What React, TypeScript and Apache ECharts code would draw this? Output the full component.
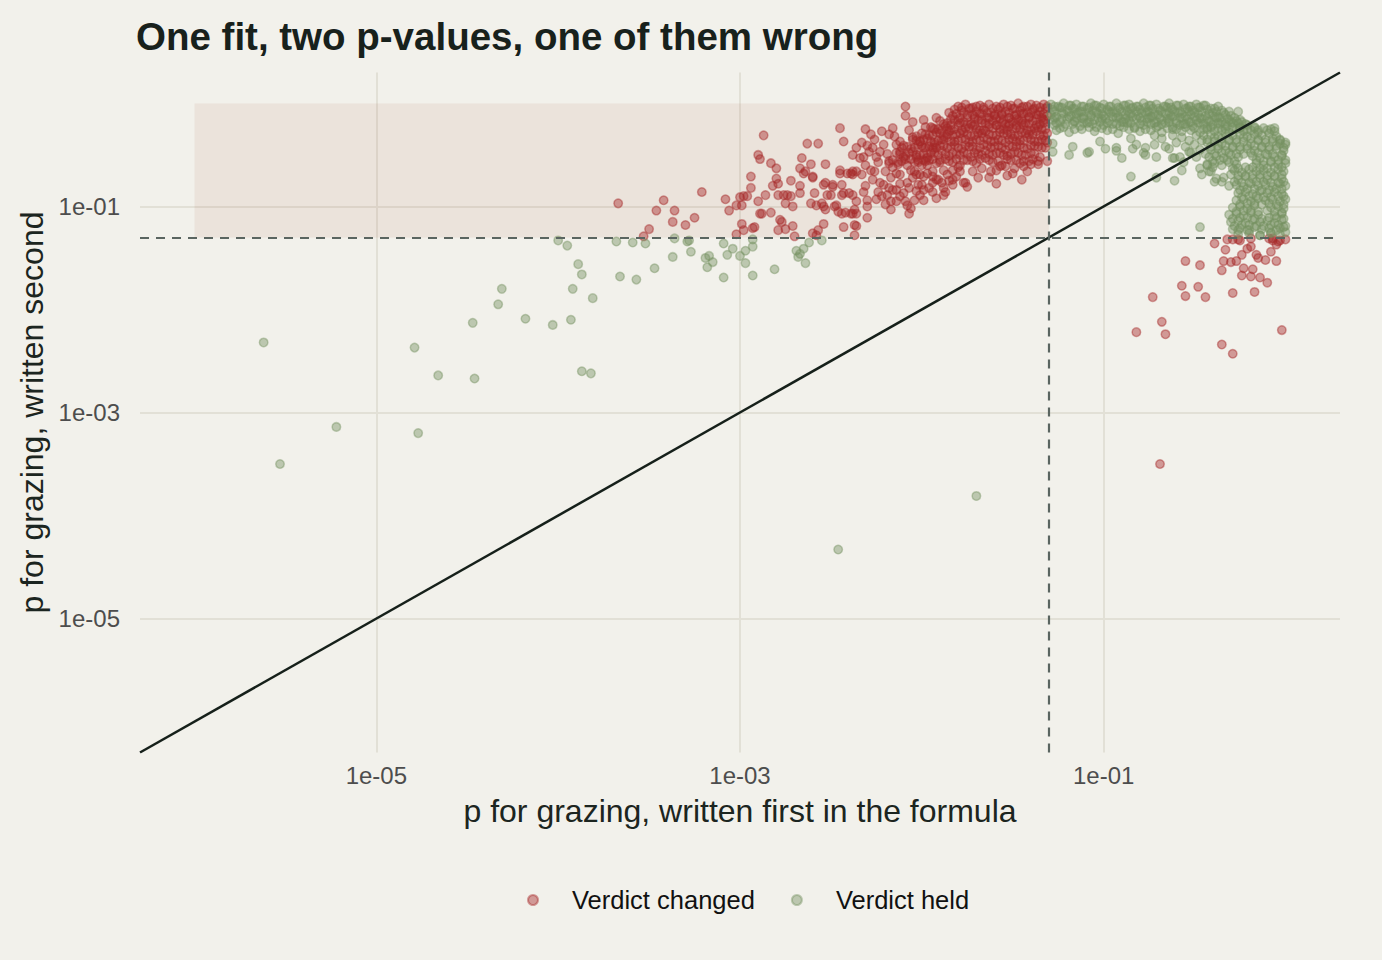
import React, { useEffect, useRef } from "react";
import * as echarts from "echarts";

// All point values are log10(p): [log10 p written first, log10 p written second]
const THRESHOLD = 0.05;
const axisExtent = [-6.3, 0.3];
const tickExponents = [-5, -3, -1];
const shadeFromExp = -6;
const seriesNames = ["Verdict changed", "Verdict held"];

const changedSparse: number[][] = [
  [-3.67,-0.97],[-3.53,-1.29],[-3.50,-1.22],[-3.46,-1.04],[-3.42,-0.94],[-3.36,-1.04],[-3.37,-1.15],[-3.30,-1.18],[-3.25,-1.11],[-3.21,-0.86],
  [-3.08,-0.93],[-3.06,-1.04],[-3.02,-0.99],[-2.99,-0.99],[-3.00,-0.91],[-2.98,-0.90],[-2.96,-0.90],[-2.94,-0.71],[-2.94,-0.82],[-2.90,-0.95],
  [-2.86,-0.89],[-2.88,-1.07],[-2.83,-1.06],[-2.90,-0.50],[-2.89,-0.54],[-2.87,-0.31],[-2.83,-0.58],[-2.80,-0.63],[-2.80,-0.73],[-2.82,-0.80],
  [-2.79,-0.89],[-2.99,-1.17],[-2.98,-1.23],[-3.02,-1.27],[-2.92,-1.20],[-2.93,-1.21],[-2.78,-1.13],[-2.77,-1.15],[-2.79,-1.23],[-2.75,-1.22],
  [-2.71,-1.19],[-2.70,-1.29],[-2.79,-0.78],[-2.72,-0.75],[-2.76,-0.89],[-2.74,-0.89],[-2.72,-0.90],[-2.75,-0.97],[-2.71,-1.00],[-2.67,-0.80],
  [-2.67,-0.87],[-2.64,-0.66],[-2.60,-0.72],[-2.61,-0.97],[-2.58,-0.99],[-2.59,-0.87],[-2.54,-0.79],[-2.53,-0.77],[-2.49,-0.79],[-2.50,-0.89],
  [-2.55,-0.97],[-2.53,-1.03],[-2.54,-1.17],[-2.60,-1.26],[-2.58,-1.28],[-2.57,-1.23],[-2.47,-0.99],[-2.44,-1.07],[-2.42,-1.06],[-2.44,-0.79],
  [-2.43,-0.87],[-2.40,-0.87],[-2.45,-0.68],[-2.39,-0.68],[-2.38,-0.66],[-2.37,-1.03],[-2.38,-1.07],[-2.37,-1.18],[-2.37,-1.28],[-2.36,-0.95],
  [-2.63,-0.39],[-2.57,-0.39],[-2.66,-0.53],[-2.61,-0.59],[-2.67,-0.63],[-2.65,-0.68],[-2.60,-0.71],[-2.53,-0.59],[-2.49,-0.81],[-2.52,-0.89],
  [-2.54,-1.00],[-2.48,-1.00],[-2.46,-1.05],[-2.44,-0.89],[-2.45,-0.65],[-2.45,-0.24],[-2.43,-0.37],[-2.36,-0.43],[-2.38,-0.50],[-2.34,-0.53],
  [-2.32,-0.52],[-2.31,-0.25],[-2.41,-0.68],[-2.38,-0.69],[-2.38,-0.89],[-2.32,-0.86],[-2.30,-1.00],[-2.30,-0.94],[-2.39,-1.07],[-2.36,-1.07],
  [-2.43,-1.20],[-2.30,-1.11],[-2.36,-1.19],[-2.89,-1.07],
  [-2.26,-0.35],[-2.30,-0.41],[-2.27,-0.43],[-2.23,-0.47],[-2.19,-0.49],[-2.31,-0.60],[-2.28,-0.65],[-2.26,-0.66],[-2.33,-0.69],[-2.36,-0.66],
  [-2.23,-0.77],[-2.24,-0.86],[-2.21,-0.79],[-2.24,-0.57],[-2.18,-0.82],[-2.16,-0.84],[-2.14,-0.84],[-2.19,-0.89],[-2.22,-0.90],[-2.16,-0.24],
  [-2.15,-0.32],[-2.12,-0.37],[-2.14,-0.40],[-2.09,-0.03],[-2.09,-0.12],[-2.05,-0.18],[-2.07,-0.26],[-2.05,-0.33],[-2.03,-0.32],[-2.12,-0.47],
  [-2.10,-0.52],[-2.13,-0.57],[-2.08,-0.60],[-2.06,-0.65],[-2.04,-0.66],[-2.12,-0.69],[-2.14,-0.68],[-2.08,-0.77],[-2.07,-0.82],[-2.12,-0.90],
  [-2.09,-0.95],[-2.14,-0.95],[-2.08,-0.99],[-2.06,-1.02],[-2.07,-1.07],[-2.17,-0.95],[-2.17,-1.03],[-1.99,-0.16],[-1.98,-0.23],[-1.94,-0.24],
  [-1.92,-0.14],[-2.01,-0.37],[-1.99,-0.43],[-2.03,-0.52],[-2.02,-0.57],[-1.99,-0.55],[-1.97,-0.53],[-1.97,-0.60],[-1.94,-0.66],[-1.94,-0.43],
  [-1.93,-0.40],[-2.03,-0.69],[-2.01,-0.69],[-1.99,-0.71],[-1.94,-0.71],[-2.02,-0.79],[-1.99,-0.84],[-2.01,-0.89],[-1.94,-0.86],[-1.94,-0.77],
  [-1.99,-0.94],[-1.91,-0.74],[-1.89,-0.77],[-1.88,-0.82],[-1.88,-0.89],[-1.87,-0.86],[-1.90,-0.57],[-1.88,-0.65],[-1.86,-0.69],[-1.83,-0.74],
  [-1.83,-0.79],[-1.76,-0.77],[-1.75,-0.81],[-1.83,-0.65],[-1.81,-0.71],[-1.79,-0.66],
  [-1.69,-0.72],[-1.63,-0.72],[-1.59,-0.78],[-1.53,-0.70],[-1.50,-0.68],[-1.45,-0.74],[-1.44,-0.61],[-1.40,-0.59],[-1.36,-0.56],[-1.31,-0.56],
  [-1.54,-0.61],[-1.57,-0.61],[-1.62,-0.66],[-1.77,-0.77],[-1.92,-0.74],
  [-2.33,-0.38],[-2.29,-0.47],[-2.25,-0.52],[-2.21,-0.40],[-2.18,-0.58],[-2.20,-0.66],[-2.17,-0.72],[-2.27,-0.74],[-2.31,-0.80],[-2.25,-0.93],
  [-2.20,-0.98],[-2.12,-0.78],[-2.10,-0.87],[-2.16,-0.62],[-2.11,-0.43],[-2.18,-0.30],[-2.22,-0.27],[-2.28,-0.30],[-2.05,-0.72],[-2.03,-0.85],
  [-2.00,-0.79],[-1.97,-0.68],[-1.96,-0.82],[-2.04,-0.94],[-1.92,-0.92],[-1.85,-0.75],[-1.80,-0.62],[-1.72,-0.66],[-1.67,-0.63],[-1.59,-0.65],
  [-1.49,-0.63],[-1.42,-0.66],
];

const changedCore: number[][] = [
  [-1.80,-0.03],[-1.76,-0.01],[-1.72,-0.04],[-1.68,-0.02],[-1.63,-0.01],[-1.59,-0.03],[-1.55,-0.01],[-1.51,-0.02],[-1.47,-0.00],[-1.44,-0.03],[-1.40,-0.01],[-1.37,-0.02],[-1.33,-0.01],[-1.31,-0.03],
  [-1.85,-0.09],[-1.82,-0.06],[-1.78,-0.07],[-1.73,-0.05],[-1.70,-0.08],[-1.66,-0.06],[-1.62,-0.09],[-1.58,-0.06],[-1.54,-0.08],[-1.50,-0.05],[-1.46,-0.07],[-1.42,-0.09],[-1.39,-0.06],[-1.35,-0.08],[-1.32,-0.05],
  [-1.83,-0.12],[-1.79,-0.14],[-1.75,-0.11],[-1.71,-0.13],[-1.67,-0.10],[-1.64,-0.14],[-1.60,-0.12],[-1.56,-0.11],[-1.52,-0.14],[-1.49,-0.12],[-1.45,-0.10],[-1.41,-0.13],[-1.37,-0.11],[-1.34,-0.14],[-1.31,-0.12],
  [-1.90,-0.17],[-1.86,-0.19],[-1.82,-0.16],[-1.77,-0.18],[-1.73,-0.20],[-1.69,-0.16],[-1.65,-0.19],[-1.61,-0.17],[-1.57,-0.15],[-1.54,-0.20],[-1.50,-0.18],[-1.47,-0.16],[-1.43,-0.19],[-1.39,-0.17],[-1.35,-0.20],[-1.32,-0.16],
  [-1.95,-0.23],[-1.91,-0.25],[-1.87,-0.22],[-1.84,-0.26],[-1.80,-0.21],[-1.76,-0.24],[-1.72,-0.22],[-1.68,-0.26],[-1.63,-0.23],[-1.59,-0.21],[-1.55,-0.25],[-1.52,-0.22],[-1.48,-0.24],[-1.44,-0.21],[-1.40,-0.26],[-1.36,-0.23],[-1.32,-0.25],
  [-2.00,-0.29],[-1.96,-0.31],[-1.92,-0.28],[-1.88,-0.32],[-1.85,-0.27],[-1.81,-0.30],[-1.77,-0.28],[-1.73,-0.32],[-1.69,-0.29],[-1.65,-0.27],[-1.61,-0.31],[-1.57,-0.28],[-1.53,-0.30],[-1.49,-0.32],[-1.45,-0.28],[-1.41,-0.30],[-1.37,-0.27],[-1.33,-0.31],
  [-2.05,-0.35],[-2.01,-0.37],[-1.97,-0.34],[-1.93,-0.38],[-1.89,-0.35],[-1.86,-0.33],[-1.82,-0.37],[-1.78,-0.34],[-1.74,-0.38],[-1.70,-0.35],[-1.66,-0.33],[-1.62,-0.37],[-1.58,-0.35],[-1.54,-0.38],[-1.50,-0.34],[-1.46,-0.36],[-1.42,-0.33],[-1.38,-0.37],[-1.34,-0.35],[-1.31,-0.38],
  [-2.10,-0.41],[-2.06,-0.44],[-2.02,-0.40],[-1.98,-0.43],[-1.94,-0.45],[-1.90,-0.41],[-1.86,-0.43],[-1.82,-0.40],[-1.78,-0.44],[-1.74,-0.42],[-1.70,-0.45],[-1.66,-0.40],[-1.62,-0.43],[-1.58,-0.41],[-1.54,-0.45],[-1.50,-0.42],[-1.46,-0.40],[-1.42,-0.44],[-1.38,-0.41],[-1.34,-0.43],
  [-2.14,-0.48],[-2.09,-0.51],[-2.05,-0.47],[-2.01,-0.50],[-1.97,-0.52],[-1.93,-0.48],[-1.89,-0.46],[-1.85,-0.51],[-1.81,-0.49],[-1.77,-0.47],[-1.73,-0.52],[-1.69,-0.49],[-1.65,-0.46],[-1.61,-0.50],[-1.57,-0.48],[-1.53,-0.51],[-1.49,-0.47],[-1.45,-0.50],[-1.40,-0.48],[-1.35,-0.52],
  [-2.18,-0.56],[-2.13,-0.59],[-2.09,-0.54],[-2.04,-0.57],[-2.00,-0.60],[-1.96,-0.55],[-1.92,-0.58],[-1.87,-0.54],[-1.83,-0.57],[-1.79,-0.60],[-1.75,-0.55],[-1.70,-0.58],[-1.65,-0.53],[-1.61,-0.57],[-1.56,-0.60],[-1.51,-0.55],[-1.46,-0.58],[-1.41,-0.56],[-1.36,-0.59],
];

const changedCoreExtra: number[][] = [
  [-1.78,-0.04],[-1.74,-0.05],[-1.70,-0.03],[-1.66,-0.04],[-1.61,-0.05],[-1.57,-0.04],[-1.53,-0.03],[-1.49,-0.05],[-1.45,-0.04],[-1.42,-0.03],[-1.38,-0.05],[-1.35,-0.04],
  [-1.81,-0.10],[-1.77,-0.09],[-1.72,-0.11],[-1.68,-0.10],[-1.64,-0.09],[-1.60,-0.11],[-1.56,-0.10],[-1.52,-0.09],[-1.48,-0.11],[-1.44,-0.10],[-1.40,-0.09],[-1.36,-0.11],[-1.33,-0.10],
  [-1.84,-0.15],[-1.80,-0.16],[-1.75,-0.14],[-1.71,-0.15],[-1.67,-0.16],[-1.63,-0.14],[-1.59,-0.15],[-1.55,-0.16],[-1.52,-0.14],[-1.48,-0.15],[-1.45,-0.16],[-1.41,-0.14],[-1.37,-0.15],[-1.33,-0.16],
  [-1.88,-0.20],[-1.84,-0.21],[-1.79,-0.19],[-1.75,-0.20],[-1.71,-0.21],[-1.67,-0.19],[-1.63,-0.20],[-1.59,-0.21],[-1.56,-0.19],[-1.52,-0.20],[-1.48,-0.21],[-1.45,-0.19],[-1.41,-0.20],[-1.37,-0.21],[-1.33,-0.19],
  [-1.93,-0.25],[-1.89,-0.26],[-1.86,-0.24],[-1.82,-0.25],[-1.78,-0.26],[-1.74,-0.24],[-1.70,-0.25],[-1.66,-0.26],[-1.61,-0.24],[-1.57,-0.25],[-1.53,-0.26],[-1.50,-0.24],[-1.46,-0.25],[-1.42,-0.26],[-1.38,-0.24],[-1.34,-0.25],
  [-1.98,-0.30],[-1.94,-0.31],[-1.90,-0.29],[-1.86,-0.30],[-1.83,-0.31],[-1.79,-0.29],[-1.75,-0.30],[-1.71,-0.31],[-1.67,-0.29],[-1.63,-0.30],[-1.59,-0.31],[-1.55,-0.29],[-1.51,-0.30],[-1.47,-0.31],[-1.43,-0.29],[-1.39,-0.30],[-1.35,-0.31],[-1.31,-0.29],
  [-2.03,-0.36],[-1.99,-0.35],[-1.95,-0.37],[-1.91,-0.36],[-1.88,-0.35],[-1.84,-0.37],[-1.80,-0.36],[-1.76,-0.35],[-1.72,-0.37],[-1.68,-0.36],[-1.64,-0.35],[-1.60,-0.37],[-1.56,-0.36],[-1.52,-0.35],[-1.48,-0.37],[-1.44,-0.36],[-1.40,-0.35],[-1.36,-0.37],[-1.32,-0.36],
  [-2.08,-0.42],[-2.04,-0.43],[-2.00,-0.41],[-1.96,-0.42],[-1.92,-0.43],[-1.88,-0.41],[-1.84,-0.42],[-1.80,-0.43],[-1.76,-0.41],[-1.72,-0.42],[-1.68,-0.43],[-1.64,-0.41],[-1.60,-0.42],[-1.56,-0.43],[-1.52,-0.41],[-1.48,-0.42],[-1.44,-0.43],[-1.40,-0.41],[-1.36,-0.42],[-1.32,-0.43],
  [-2.12,-0.49],[-2.07,-0.48],[-2.03,-0.50],[-1.99,-0.49],[-1.95,-0.48],[-1.91,-0.50],[-1.87,-0.49],[-1.83,-0.48],[-1.79,-0.50],[-1.75,-0.49],[-1.71,-0.48],[-1.67,-0.50],[-1.63,-0.49],[-1.59,-0.48],[-1.55,-0.50],[-1.51,-0.49],[-1.47,-0.48],[-1.43,-0.50],[-1.38,-0.49],
  [-2.16,-0.55],[-2.11,-0.56],[-2.06,-0.54],[-2.02,-0.55],[-1.98,-0.56],[-1.94,-0.54],[-1.90,-0.55],[-1.85,-0.56],[-1.81,-0.54],[-1.77,-0.55],[-1.72,-0.56],[-1.68,-0.54],[-1.63,-0.55],[-1.58,-0.56],[-1.53,-0.54],[-1.48,-0.55],[-1.44,-0.56],[-1.39,-0.54],
];

const changedRight: number[][] = [
  [-0.39,-1.36],[-0.33,-1.42],[-0.32,-1.32],[-0.29,-1.32],[-0.26,-1.32],[-0.25,-1.33],[-0.19,-1.31],[-0.55,-1.53],[-0.47,-1.57],[-0.35,-1.62],
  [-0.34,-1.53],[-0.30,-1.54],[-0.27,-1.53],[-0.24,-1.47],[-0.21,-1.41],[-0.19,-1.39],[-0.16,-1.47],[-0.15,-1.50],[-0.11,-1.52],[-0.08,-1.44],
  [-0.05,-1.53],[-0.05,-1.37],[-0.04,-1.34],[-0.07,-1.31],[-0.23,-1.60],[-0.18,-1.61],[-0.24,-1.67],[-0.19,-1.68],[-0.14,-1.69],[-0.10,-1.74],
  [-0.57,-1.77],[-0.48,-1.78],[-0.55,-1.87],[-0.44,-1.88],[-0.73,-1.88],[-0.29,-1.84],[-0.17,-1.83],[-0.68,-2.12],[-0.82,-2.22],[-0.66,-2.24],
  [-0.02,-2.20],[-0.35,-2.34],[-0.29,-2.43],[-0.69,-3.50],[-0.09,-1.31],[-0.07,-1.33],[-0.03,-1.33],[0.00,-1.32],
];

const heldSparse: number[][] = [
  [-5.62,-2.32],[-5.53,-3.50],[-5.22,-3.14],[-4.79,-2.37],[-4.77,-3.20],[-4.66,-2.64],[-4.46,-2.67],[-4.47,-2.13],[-4.33,-1.95],[-4.31,-1.80],
  [-4.18,-2.09],[-4.03,-2.15],[-4.00,-1.33],[-3.95,-1.38],[-3.89,-1.56],[-3.87,-1.66],[-3.92,-1.80],[-3.81,-1.89],[-3.93,-2.10],[-3.87,-2.60],
  [-3.82,-2.62],[-3.68,-1.34],[-3.66,-1.68],[-3.59,-1.35],[-3.52,-1.36],[-3.57,-1.71],[-3.47,-1.60],[-3.37,-1.49],[-3.36,-1.31],[-3.29,-1.34],
  [-3.28,-1.33],[-3.27,-1.44],[-3.19,-1.50],[-3.17,-1.48],[-3.15,-1.54],[-3.18,-1.59],[-3.09,-1.36],[-3.07,-1.47],[-3.04,-1.41],[-3.00,-1.48],
  [-2.97,-1.43],[-2.93,-1.32],[-2.93,-1.39],[-2.97,-1.55],[-3.09,-1.69],[-2.93,-1.67],[-2.81,-1.61],[-2.69,-1.43],[-2.68,-1.49],[-2.67,-1.46],
  [-2.65,-1.41],[-2.62,-1.35],[-2.64,-1.55],[-2.55,-1.33],[-2.46,-4.33],[-1.70,-3.81],
];

const heldBand: number[][] = [
  [-1.29,-0.01],[-1.25,-0.03],[-1.22,-0.00],[-1.18,-0.02],[-1.15,-0.01],[-1.11,-0.03],[-1.07,-0.00],[-1.04,-0.02],[-1.00,-0.01],[-0.97,-0.03],[-0.93,-0.00],[-0.89,-0.02],
  [-0.86,-0.01],[-0.82,-0.03],[-0.78,-0.00],[-0.75,-0.02],[-0.71,-0.01],[-0.67,-0.03],[-0.64,-0.00],[-0.60,-0.02],[-0.56,-0.01],[-0.53,-0.03],[-0.49,-0.01],[-0.45,-0.02],
  [-1.28,-0.06],[-1.24,-0.04],[-1.20,-0.07],[-1.17,-0.05],[-1.13,-0.08],[-1.09,-0.05],[-1.06,-0.07],[-1.02,-0.04],[-0.98,-0.06],[-0.95,-0.08],[-0.91,-0.05],[-0.87,-0.07],[-0.84,-0.04],
  [-0.80,-0.06],[-0.76,-0.08],[-0.73,-0.05],[-0.69,-0.07],[-0.65,-0.04],[-0.62,-0.06],[-0.58,-0.08],[-0.54,-0.05],[-0.51,-0.07],[-0.47,-0.04],[-0.43,-0.06],[-0.39,-0.05],[-0.35,-0.07],
  [-1.29,-0.11],[-1.26,-0.13],[-1.22,-0.10],[-1.18,-0.12],[-1.14,-0.09],[-1.11,-0.13],[-1.07,-0.11],[-1.03,-0.10],[-1.00,-0.12],[-0.96,-0.09],[-0.92,-0.13],[-0.88,-0.11],[-0.85,-0.10],[-0.81,-0.12],
  [-0.77,-0.09],[-0.74,-0.13],[-0.70,-0.11],[-0.66,-0.10],[-0.63,-0.12],[-0.59,-0.09],[-0.55,-0.13],[-0.52,-0.11],[-0.48,-0.10],[-0.44,-0.12],[-0.40,-0.09],[-0.37,-0.13],[-0.33,-0.11],[-0.30,-0.12],
  [-1.28,-0.16],[-1.24,-0.18],[-1.20,-0.15],[-1.16,-0.17],[-1.12,-0.14],[-1.08,-0.18],[-1.05,-0.16],[-1.01,-0.15],[-0.97,-0.17],[-0.93,-0.14],[-0.90,-0.18],[-0.86,-0.16],[-0.82,-0.15],[-0.79,-0.17],[-0.75,-0.14],
  [-0.71,-0.18],[-0.68,-0.16],[-0.64,-0.15],[-0.60,-0.17],[-0.57,-0.14],[-0.53,-0.18],[-0.49,-0.16],[-0.46,-0.15],[-0.42,-0.17],[-0.38,-0.14],[-0.35,-0.18],[-0.31,-0.16],[-0.27,-0.17],[-0.24,-0.18],
  [-1.27,-0.21],[-1.22,-0.23],[-1.17,-0.20],[-1.13,-0.22],[-1.09,-0.19],[-1.04,-0.23],[-1.00,-0.21],[-0.95,-0.20],[-0.91,-0.22],[-0.87,-0.19],[-0.83,-0.23],[-0.78,-0.21],[-0.74,-0.20],[-0.70,-0.22],
  [-0.66,-0.19],[-0.62,-0.23],[-0.58,-0.21],[-0.55,-0.20],[-0.51,-0.22],[-0.47,-0.19],[-0.43,-0.23],[-0.40,-0.21],[-0.36,-0.20],[-0.32,-0.22],[-0.29,-0.19],[-0.25,-0.23],[-0.21,-0.21],
  [-1.26,-0.26],[-1.19,-0.28],[-1.12,-0.25],[-1.05,-0.27],[-0.98,-0.26],[-0.92,-0.29],[-0.86,-0.25],[-0.80,-0.27],[-0.74,-0.26],[-0.68,-0.28],[-0.62,-0.25],[-0.57,-0.27],
  [-0.52,-0.26],[-0.47,-0.28],[-0.43,-0.25],[-0.39,-0.27],[-0.35,-0.26],[-0.31,-0.28],[-0.27,-0.25],[-0.23,-0.27],[-0.19,-0.26],[-0.15,-0.28],[-0.10,-0.26],[-0.06,-0.27],
];

const heldBandExtra: number[][] = [
  [-1.27,-0.03],[-1.23,-0.04],[-1.19,-0.02],[-1.16,-0.05],[-1.12,-0.03],[-1.08,-0.04],[-1.05,-0.02],[-1.01,-0.05],[-0.96,-0.03],[-0.92,-0.04],[-0.88,-0.02],[-0.85,-0.05],[-0.81,-0.03],
  [-0.77,-0.04],[-0.74,-0.02],[-0.70,-0.05],[-0.66,-0.03],[-0.63,-0.04],[-0.59,-0.02],[-0.55,-0.05],[-0.52,-0.03],[-0.48,-0.04],[-0.44,-0.02],[-0.41,-0.05],[-0.37,-0.03],
  [-1.27,-0.08],[-1.23,-0.09],[-1.19,-0.08],[-1.15,-0.10],[-1.12,-0.08],[-1.08,-0.09],[-1.04,-0.08],[-1.01,-0.10],[-0.97,-0.08],[-0.93,-0.09],[-0.90,-0.08],[-0.86,-0.10],[-0.82,-0.08],[-0.79,-0.09],
  [-0.75,-0.08],[-0.72,-0.10],[-0.68,-0.08],[-0.64,-0.09],[-0.61,-0.08],[-0.57,-0.10],[-0.53,-0.08],[-0.50,-0.09],[-0.46,-0.08],[-0.42,-0.10],[-0.38,-0.08],[-0.34,-0.09],[-0.31,-0.08],
  [-1.27,-0.14],[-1.23,-0.15],[-1.19,-0.13],[-1.15,-0.14],[-1.11,-0.15],[-1.07,-0.13],[-1.03,-0.14],[-0.99,-0.15],[-0.95,-0.13],[-0.91,-0.14],[-0.88,-0.15],[-0.84,-0.13],[-0.80,-0.14],[-0.76,-0.15],
  [-0.73,-0.13],[-0.69,-0.14],[-0.65,-0.15],[-0.62,-0.13],[-0.58,-0.14],[-0.54,-0.15],[-0.50,-0.13],[-0.47,-0.14],[-0.43,-0.15],[-0.39,-0.13],[-0.36,-0.14],[-0.32,-0.15],[-0.28,-0.14],
  [-1.26,-0.19],[-1.21,-0.20],[-1.16,-0.18],[-1.11,-0.19],[-1.06,-0.20],[-1.02,-0.18],[-0.98,-0.19],[-0.93,-0.20],[-0.89,-0.18],[-0.85,-0.19],[-0.80,-0.20],[-0.76,-0.18],[-0.72,-0.19],
  [-0.68,-0.20],[-0.64,-0.18],[-0.60,-0.19],[-0.56,-0.20],[-0.52,-0.18],[-0.48,-0.19],[-0.45,-0.20],[-0.41,-0.18],[-0.37,-0.19],[-0.33,-0.20],[-0.30,-0.18],[-0.26,-0.19],[-0.22,-0.20],
  [-1.24,-0.24],[-1.16,-0.25],[-1.08,-0.23],[-1.01,-0.24],[-0.95,-0.25],[-0.89,-0.23],[-0.83,-0.24],[-0.77,-0.25],[-0.71,-0.23],[-0.65,-0.24],[-0.60,-0.25],[-0.55,-0.23],
  [-0.50,-0.24],[-0.45,-0.25],[-0.41,-0.23],[-0.37,-0.24],[-0.33,-0.25],[-0.29,-0.23],[-0.25,-0.24],[-0.21,-0.25],[-0.17,-0.23],[-0.12,-0.24],[-0.08,-0.25],
];

const heldRight: number[][] = [
  [-0.45,-0.31],[-0.41,-0.30],[-0.37,-0.32],[-0.33,-0.29],[-0.29,-0.31],[-0.25,-0.30],[-0.21,-0.32],[-0.17,-0.30],[-0.13,-0.31],[-0.09,-0.29],[-0.05,-0.32],
  [-0.43,-0.35],[-0.35,-0.34],[-0.27,-0.35],[-0.19,-0.34],[-0.11,-0.35],[-0.03,-0.36],
  [-0.43,-0.38],[-0.39,-0.37],[-0.35,-0.39],[-0.31,-0.36],[-0.27,-0.38],[-0.23,-0.37],[-0.19,-0.39],[-0.15,-0.36],[-0.11,-0.38],[-0.07,-0.37],[-0.03,-0.39],[-0.00,-0.38],
  [-0.41,-0.42],[-0.33,-0.41],[-0.25,-0.42],[-0.17,-0.41],[-0.09,-0.42],[-0.01,-0.43],
  [-0.41,-0.45],[-0.37,-0.44],[-0.33,-0.46],[-0.29,-0.43],[-0.25,-0.45],[-0.21,-0.44],[-0.17,-0.46],[-0.13,-0.43],[-0.09,-0.45],[-0.05,-0.44],[-0.01,-0.46],
  [-0.39,-0.49],[-0.31,-0.48],[-0.23,-0.49],[-0.15,-0.48],[-0.07,-0.49],[-0.02,-0.50],
  [-0.42,-0.52],[-0.38,-0.51],[-0.34,-0.53],[-0.30,-0.50],[-0.26,-0.52],[-0.18,-0.51],[-0.14,-0.53],[-0.10,-0.50],[-0.06,-0.52],[-0.02,-0.51],
  [-0.40,-0.56],[-0.32,-0.55],[-0.12,-0.56],[-0.04,-0.55],
  [-0.43,-0.59],[-0.39,-0.58],[-0.35,-0.60],[-0.31,-0.57],[-0.27,-0.59],[-0.16,-0.58],[-0.12,-0.60],[-0.08,-0.57],[-0.04,-0.59],[-0.00,-0.58],
  [-0.29,-0.63],[-0.22,-0.62],[-0.14,-0.63],[-0.06,-0.62],
  [-0.42,-0.66],[-0.28,-0.65],[-0.24,-0.67],[-0.20,-0.64],[-0.16,-0.66],[-0.12,-0.65],[-0.08,-0.67],[-0.04,-0.64],[-0.01,-0.66],
  [-0.26,-0.70],[-0.18,-0.69],[-0.10,-0.70],[-0.02,-0.69],
  [-0.38,-0.73],[-0.34,-0.72],[-0.26,-0.74],[-0.22,-0.71],[-0.18,-0.73],[-0.14,-0.72],[-0.10,-0.74],[-0.06,-0.71],[-0.02,-0.73],
  [-0.24,-0.77],[-0.16,-0.76],[-0.08,-0.77],[-0.01,-0.76],
  [-0.31,-0.80],[-0.27,-0.79],[-0.23,-0.81],[-0.19,-0.78],[-0.15,-0.80],[-0.11,-0.79],[-0.07,-0.81],[-0.03,-0.78],[-0.00,-0.80],
  [-0.25,-0.84],[-0.17,-0.83],[-0.09,-0.84],[-0.02,-0.83],
  [-0.26,-0.87],[-0.22,-0.86],[-0.18,-0.88],[-0.14,-0.85],[-0.10,-0.87],[-0.06,-0.86],[-0.02,-0.88],
  [-0.24,-0.91],[-0.16,-0.90],[-0.08,-0.91],[-0.01,-0.90],
  [-0.27,-0.94],[-0.23,-0.93],[-0.19,-0.95],[-0.15,-0.92],[-0.11,-0.94],[-0.07,-0.93],[-0.03,-0.95],[-0.00,-0.93],
  [-0.25,-0.98],[-0.17,-0.97],[-0.05,-0.98],
  [-0.29,-1.01],[-0.25,-1.00],[-0.21,-1.02],[-0.17,-0.99],[-0.08,-1.01],[-0.04,-1.00],[-0.01,-1.02],
  [-0.27,-1.05],[-0.19,-1.04],[-0.06,-1.05],[-0.02,-1.06],
  [-0.31,-1.08],[-0.27,-1.07],[-0.23,-1.09],[-0.19,-1.06],[-0.15,-1.08],[-0.06,-1.09],[-0.02,-1.07],
  [-0.29,-1.12],[-0.21,-1.11],[-0.13,-1.12],[-0.05,-1.11],
  [-0.30,-1.15],[-0.26,-1.14],[-0.22,-1.16],[-0.18,-1.13],[-0.14,-1.15],[-0.10,-1.14],[-0.06,-1.16],[-0.02,-1.13],
  [-0.28,-1.19],[-0.20,-1.18],[-0.12,-1.19],[-0.04,-1.18],
  [-0.29,-1.22],[-0.25,-1.21],[-0.21,-1.23],[-0.17,-1.20],[-0.13,-1.22],[-0.09,-1.21],[-0.05,-1.23],[-0.01,-1.20],
  [-0.26,-1.27],[-0.20,-1.26],[-0.14,-1.28],[-0.08,-1.26],[-0.03,-1.27],
];

const heldRightExtra: number[][] = [
  [-0.39,-0.33],[-0.31,-0.35],[-0.23,-0.33],[-0.15,-0.35],[-0.07,-0.34],
  [-0.37,-0.41],[-0.29,-0.42],[-0.21,-0.41],[-0.13,-0.42],[-0.05,-0.41],
  [-0.35,-0.48],[-0.27,-0.49],[-0.19,-0.48],[-0.11,-0.49],
  [-0.36,-0.55],[-0.28,-0.56],[-0.16,-0.55],[-0.08,-0.56],[-0.00,-0.55],
  [-0.40,-0.62],[-0.26,-0.63],[-0.18,-0.62],[-0.10,-0.63],[-0.02,-0.62],
  [-0.30,-0.69],[-0.22,-0.70],[-0.14,-0.69],[-0.06,-0.70],
  [-0.28,-0.76],[-0.20,-0.77],[-0.12,-0.76],[-0.04,-0.77],
  [-0.21,-0.83],[-0.13,-0.84],[-0.05,-0.83],
  [-0.20,-0.90],[-0.12,-0.91],[-0.04,-0.90],
  [-0.21,-0.97],[-0.13,-0.98],[-0.09,-0.97],[-0.01,-0.98],
  [-0.23,-1.04],[-0.15,-1.05],[-0.10,-1.04],
  [-0.25,-1.11],[-0.17,-1.12],[-0.09,-1.11],[-0.01,-1.12],
  [-0.24,-1.18],[-0.16,-1.19],[-0.08,-1.18],[-0.00,-1.19],
];

const heldStray: number[][] = [
  [-1.28,-0.39],[-1.19,-0.50],[-1.17,-0.42],[-1.09,-0.48],[-1.08,-0.47],[-1.02,-0.37],[-0.99,-0.44],[-0.93,-0.43],[-0.93,-0.46],[-0.90,-0.53],
  [-0.85,-0.34],[-0.84,-0.44],[-0.82,-0.40],[-0.78,-0.48],[-0.77,-0.50],[-0.77,-0.43],[-0.72,-0.31],[-0.72,-0.40],[-0.71,-0.52],[-0.68,-0.34],
  [-0.66,-0.42],[-0.64,-0.44],[-0.62,-0.53],[-0.61,-0.53],[-0.58,-0.52],[-0.57,-0.65],[-0.56,-0.57],[-0.52,-0.48],[-0.49,-0.52],[-0.47,-0.63],
  [-0.46,-0.69],[-0.43,-0.60],[-0.41,-0.66],[-0.39,-0.76],[-0.35,-0.76],[-0.26,-0.08],[-0.25,-0.16],[-0.17,-0.24],[-0.15,-0.26],[-0.06,-0.24],
  [-0.03,-0.35],[0.00,-0.40],[-0.85,-0.71],[-0.71,-0.72],[-0.61,-0.75],[-0.47,-1.20],[-0.26,-1.23],[-0.20,-1.23],[-0.14,-1.28],[-0.08,-1.25],
  [-0.03,-1.21],[0.00,-1.25],[-0.57,-0.33],[-0.53,-0.36],[-0.49,-0.31],[-0.55,-0.42],[-0.50,-0.40],[-0.47,-0.45],[-0.53,-0.47],[-0.46,-0.36],
  [-0.60,-0.38],[-0.62,-0.31],[-0.44,-0.49],[-1.28,-0.47],
];

const FONT = "'Liberation Sans', Arial, Helvetica, sans-serif";
const RED = "rgba(166,40,42,0.55)";
const GREEN = "rgba(118,146,98,0.55)";

function expLabel(v: number): string {
  const e = Math.round(v);
  return "1e" + (e < 0 ? "-" : "+") + String(Math.abs(e)).padStart(2, "0");
}

export default function App() {
  const ref = useRef<HTMLDivElement>(null);
  useEffect(() => {
    if (!ref.current) return;
    const chart = echarts.init(ref.current, null, { renderer: "svg" });
    const lt = Math.log10(THRESHOLD);
    const changed = [...changedSparse, ...changedCore, ...changedCoreExtra, ...changedRight];
    const held = [...heldSparse, ...heldBand, ...heldBandExtra, ...heldRight, ...heldRightExtra, ...heldStray];
    const axisCommon = {
      type: "value" as const,
      min: axisExtent[0],
      max: axisExtent[1],
      nameLocation: "middle" as const,
      nameTextStyle: { fontSize: 32, color: "#1c2520", fontFamily: FONT },
      axisLine: { show: false },
      axisTick: { show: false },
      splitLine: { show: false },
    };
    const option: any = {
      animation: false,
      backgroundColor: "#f2f1eb",
      title: {
        text: "One fit, two p-values, one of them wrong",
        left: 136,
        top: 17,
        padding: 0,
        textStyle: { fontFamily: FONT, fontSize: 38.5, fontWeight: "bold", color: "#18211c" },
      },
      grid: { left: 140, top: 72.5, width: 1200, height: 680, containLabel: false },
      xAxis: {
        ...axisCommon,
        name: "p for grazing, written first in the formula",
        nameGap: 42,
        axisLabel: {
          customValues: tickExponents,
          formatter: expLabel,
          fontSize: 24,
          color: "#4d4d4d",
          margin: 11,
          fontFamily: FONT,
        },
      },
      yAxis: {
        ...axisCommon,
        name: "p for grazing, written second",
        nameGap: 86,
        axisLabel: {
          customValues: tickExponents,
          formatter: expLabel,
          fontSize: 24,
          color: "#4d4d4d",
          margin: 20,
          fontFamily: FONT,
        },
      },
      legend: {
        data: seriesNames,
        left: 522,
        top: 882,
        icon: "circle",
        itemWidth: 40,
        itemHeight: 10,
        itemGap: 36,
        textStyle: { fontSize: 25.5, color: "#111111", fontFamily: FONT, padding: [0, 0, 0, 14] },
      },
      series: [
        {
          type: "scatter",
          name: seriesNames[0],
          data: changed,
          symbolSize: 8.5,
          silent: true,
          itemStyle: { color: RED, borderColor: RED, borderWidth: 1.5 },
          markArea: {
            silent: true,
            z: 1,
            itemStyle: { color: "rgba(160,80,60,0.085)" },
            data: [[{ xAxis: shadeFromExp, yAxis: lt }, { xAxis: lt, yAxis: 0 }]],
          },
          markLine: {
            silent: true,
            z: 0,
            symbol: ["none", "none"],
            label: { show: false },
            lineStyle: { color: "#e2e0d6", width: 2, type: "solid" },
            data: tickExponents.flatMap((e) => [{ xAxis: e }, { yAxis: e }]),
          },
        },
        {
          type: "scatter",
          name: seriesNames[1],
          data: held,
          symbolSize: 8.5,
          silent: true,
          itemStyle: { color: GREEN, borderColor: GREEN, borderWidth: 1.5 },
        },
        {
          type: "line",
          name: "identity",
          data: [
            [axisExtent[0], axisExtent[0]],
            [axisExtent[1], axisExtent[1]],
          ],
          symbol: "none",
          silent: true,
          z: 4,
          lineStyle: { color: "#16201a", width: 2.5 },
          markLine: {
            silent: true,
            z: 5,
            symbol: ["none", "none"],
            label: { show: false },
            lineStyle: { color: "#5a6560", width: 2.2, type: [9, 7] },
            data: [{ xAxis: lt }, { yAxis: lt }],
          },
        },
      ],
    };
    chart.setOption(option);
    return () => chart.dispose();
  }, []);
  return (
    <div
      ref={ref}
      style={{ position: "fixed", left: 0, top: 0, width: 1382, height: 960 }}
    />
  );
}
